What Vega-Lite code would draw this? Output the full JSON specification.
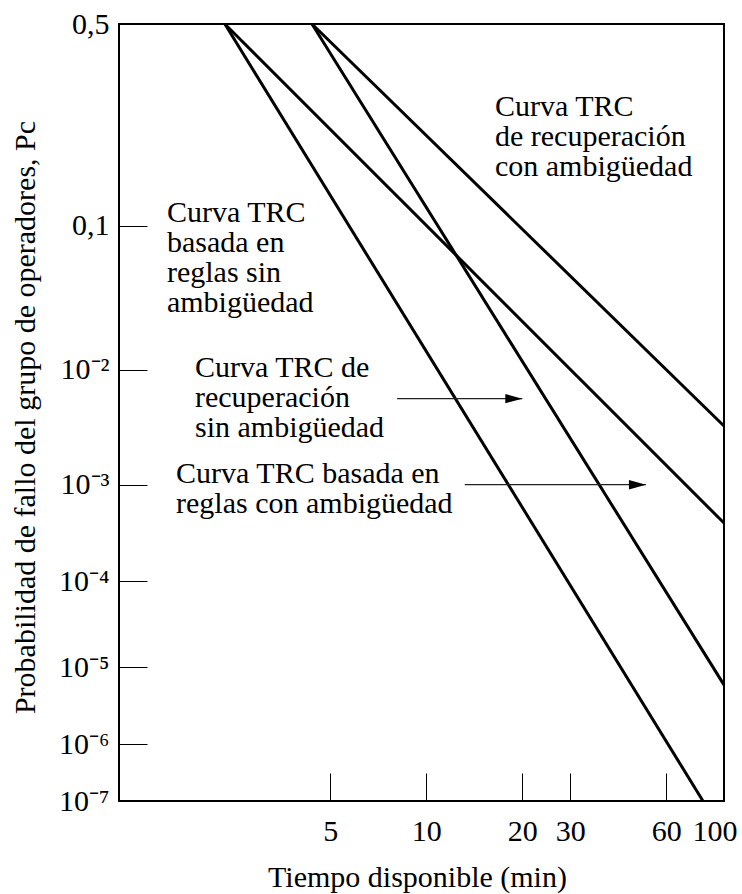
{
  "$schema": "https://vega.github.io/schema/vega-lite/v6.json",
  "autosize": "none",
  "padding": {"left": 119, "top": 24, "right": 18, "bottom": 93},
  "width": 605,
  "height": 777,
  "background": "white",
  "config": {
    "view": {"stroke": "black", "strokeWidth": 2},
    "font": "Liberation Serif"
  },
  "datasets": {
    "curves": [
      {"curve": "reglas sin ambigüedad", "t": 2.24, "p": 0.5},
      {"curve": "reglas sin ambigüedad", "t": 83.0, "p": 1e-7},
      {"curve": "reglas con ambigüedad", "t": 2.24, "p": 0.5},
      {"curve": "reglas con ambigüedad", "t": 100, "p": 0.0004},
      {"curve": "recuperación sin ambigüedad", "t": 4.35, "p": 0.5},
      {"curve": "recuperación sin ambigüedad", "t": 100, "p": 0.0000059},
      {"curve": "recuperación con ambigüedad", "t": 4.35, "p": 0.5},
      {"curve": "recuperación con ambigüedad", "t": 100, "p": 0.00324}
    ],
    "labels": [
      {"t": 1.441, "p": 0.1026, "label": "Curva TRC\nbasada en\nreglas sin\nambigüedad"},
      {"t": 1.784, "p": 0.00866, "label": "Curva TRC de\nrecuperación\nsin ambigüedad"},
      {"t": 1.544, "p": 0.001028, "label": "Curva TRC basada en\nreglas con ambigüedad"},
      {"t": 16.42, "p": 0.2396, "label": "Curva TRC\nde recuperación\ncon ambigüedad"}
    ],
    "arrows": [
      {"t": 8.1, "t2": 20, "p": 0.0056},
      {"t": 13.2, "t2": 51.8, "p": 0.001}
    ]
  },
  "encoding": {
    "x": {
      "field": "t",
      "type": "quantitative",
      "scale": {
        "type": "log",
        "domain": [1, 5, 10, 20, 30, 60, 100],
        "range": [0, 211.3, 307.3, 403.3, 451.3, 547.3, 605]
      },
      "axis": {
        "values": [5, 10, 20, 30, 60, 100],
        "format": "d",
        "title": "Tiempo disponible (min)",
        "domain": false,
        "grid": false,
        "tickSize": -28,
        "tickColor": "black",
        "tickWidth": 1,
        "labelFont": "Liberation Serif",
        "labelFontSize": 30,
        "labelColor": "black",
        "labelPadding": 43,
        "labelFlush": true,
        "labelFlushOffset": 13,
        "labelOverlap": false,
        "titleFont": "Liberation Serif",
        "titleFontSize": 30,
        "titleFontWeight": "normal",
        "titleColor": "black",
        "titleX": 298,
        "titleY": 85,
        "titleAlign": "center",
        "titleBaseline": "alphabetic"
      }
    },
    "y": {
      "field": "p",
      "type": "quantitative",
      "scale": {
        "type": "log",
        "domain": [1e-7, 1e-6, 1e-5, 1e-4, 1e-3, 1e-2, 0.1, 0.5],
        "range": [777, 720, 643.3, 557, 460.7, 345.7, 201.7, 0]
      },
      "axis": {
        "values": [1e-7, 1e-6, 1e-5, 1e-4, 1e-3, 1e-2, 0.1, 0.5],
        "labelExpr": "datum.value > 0.3 ? '0,5' : datum.value > 0.05 ? '0,1' : datum.value > 0.005 ? '10⁻²' : datum.value > 0.0005 ? '10⁻³' : datum.value > 0.00005 ? '10⁻⁴' : datum.value > 0.000005 ? '10⁻⁵' : datum.value > 0.0000005 ? '10⁻⁶' : '10⁻⁷'",
        "title": "Probabilidad de fallo del grupo de operadores, Pc",
        "domain": false,
        "grid": false,
        "tickSize": -28,
        "tickColor": "black",
        "tickWidth": 1,
        "labelFont": "Liberation Serif",
        "labelFontSize": 30,
        "labelColor": "black",
        "labelPadding": 38,
        "labelFlush": false,
        "labelOverlap": false,
        "titleFont": "Liberation Serif",
        "titleFontSize": 30,
        "titleFontWeight": "normal",
        "titleColor": "black",
        "titleAngle": 270,
        "titleX": -85,
        "titleY": 393,
        "titleAlign": "center",
        "titleBaseline": "alphabetic"
      }
    }
  },
  "layer": [
    {
      "data": {"name": "curves"},
      "mark": {"type": "line", "color": "black", "strokeWidth": 3},
      "encoding": {"detail": {"field": "curve", "type": "nominal"}}
    },
    {
      "data": {"name": "arrows"},
      "mark": {"type": "rule", "color": "#222222", "strokeWidth": 1.2},
      "encoding": {"x2": {"field": "t2"}}
    },
    {
      "data": {"name": "arrows"},
      "mark": {"type": "point", "shape": "M-2,-0.55L0,0L-2,0.55Z", "size": 289, "filled": true, "color": "black", "opacity": 1, "strokeWidth": 0},
      "encoding": {"x": {"field": "t2", "type": "quantitative"}}
    },
    {
      "data": {"name": "labels"},
      "mark": {"type": "text", "align": "left", "baseline": "alphabetic", "font": "Liberation Serif", "fontSize": 30, "lineHeight": 30, "lineBreak": "\n", "color": "black"},
      "encoding": {"text": {"field": "label", "type": "nominal"}}
    }
  ]
}
